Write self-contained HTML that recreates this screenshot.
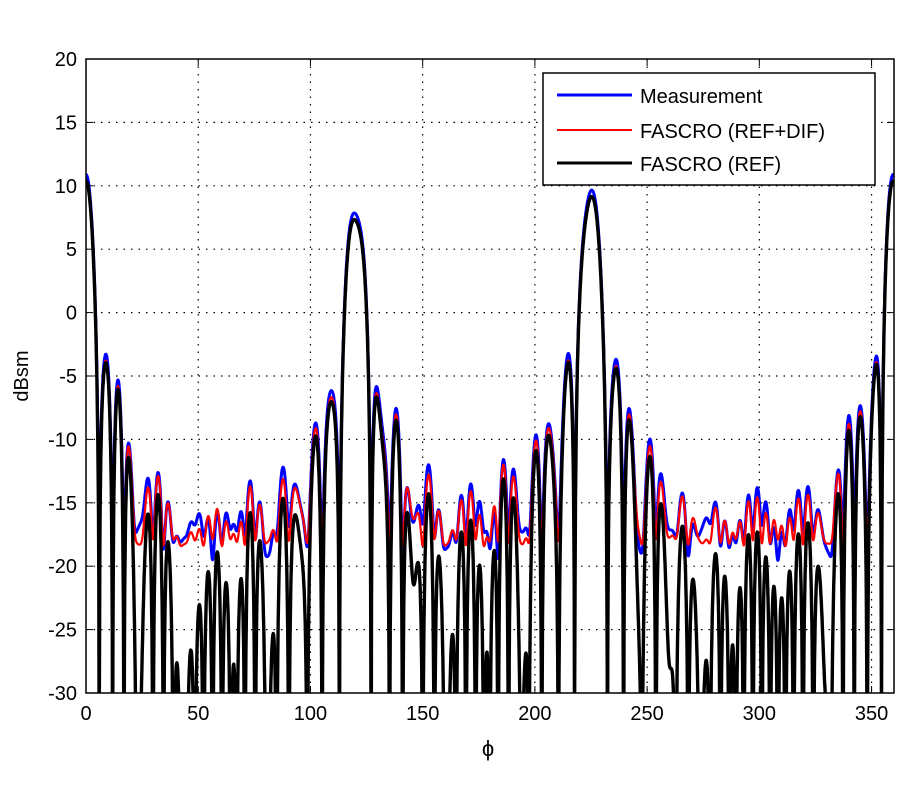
<!DOCTYPE html>
<html><head><meta charset="utf-8"><style>
body{margin:0;background:#fff;}
svg{display:block;font-family:"Liberation Sans",sans-serif;}
</style></head><body>
<svg id="s" width="900" height="800" xmlns="http://www.w3.org/2000/svg">
<defs><clipPath id="c"><rect x="86" y="59" width="808" height="634"/></clipPath></defs>
<rect x="0" y="0" width="900" height="800" fill="#fff"/>
<g id="grid" stroke="#000" stroke-width="1.2" stroke-dasharray="1.5,6"></g>
<g id="lines" clip-path="url(#c)" fill="none" stroke-linejoin="round"></g>
<rect x="86" y="59" width="808" height="634" fill="none" stroke="#000" stroke-width="1.5"/>
<g id="ticks" font-size="20" fill="#000"></g>
<text x="28" y="376" font-size="20" transform="rotate(-90 28 376)" text-anchor="middle">dBsm</text>
<text x="488" y="756" font-size="22" text-anchor="middle">ϕ</text>
<rect x="543" y="73" width="332" height="112" fill="#fff" stroke="#000" stroke-width="1.5"/>
<line x1="557" y1="95" x2="632" y2="95" stroke="#0000ff" stroke-width="3"/>
<line x1="557" y1="130" x2="632" y2="130" stroke="#ff0000" stroke-width="2"/>
<line x1="557" y1="163" x2="632" y2="163" stroke="#000" stroke-width="3"/>
<text x="640" y="103" font-size="20">Measurement</text>
<text x="640" y="138" font-size="20">FASCRO (REF+DIF)</text>
<text x="640" y="171" font-size="20">FASCRO (REF)</text>
</svg>
<script>
var X0=86,X1=894,Y0=59,Y1=693;
function px(p){return X0+(X1-X0)*p/360;}
function py(d){return Y0+(20-d)*(Y1-Y0)/50;}
var g=document.getElementById('grid'),t=document.getElementById('ticks'),ns="http://www.w3.org/2000/svg";
function el(par,n,a,txt){var e=document.createElementNS(ns,n);for(var k in a)e.setAttribute(k,a[k]);if(txt!==undefined)e.textContent=txt;par.appendChild(e);return e;}
for(var v=50;v<=350;v+=50){el(g,'line',{x1:px(v),y1:Y0,x2:px(v),y2:Y1});}
for(var v=0;v<=350;v+=50){el(t,'text',{x:px(v),y:Y1+27,'text-anchor':'middle'},v);el(t,'line',{x1:px(v),y1:Y1,x2:px(v),y2:Y1-7,stroke:'#000'});el(t,'line',{x1:px(v),y1:Y0,x2:px(v),y2:Y0+7,stroke:'#000'});}
for(var d=-25;d<=15;d+=5){el(g,'line',{x1:X0,y1:py(d),x2:X1,y2:py(d)});}
for(var d=-30;d<=20;d+=5){el(t,'text',{x:X0-9,y:py(d)+7,'text-anchor':'end'},d);el(t,'line',{x1:X0,y1:py(d),x2:X0+7,y2:py(d),stroke:'#000'});el(t,'line',{x1:X1,y1:py(d),x2:X1-7,y2:py(d),stroke:'#000'});}
function sinc(x){if(Math.abs(x)<1e-6)return 1;return Math.sin(Math.PI*x)/(Math.PI*x);}
var W=7.3;
var lobes=[[0,3.2,5.8],[360,3.3,5.8],[120,2.4,7.3],[225,2.85,7.3]];
function a(p){var s=0;for(var i=0;i<lobes.length;i++){var x=(p-lobes[i][0])/lobes[i][2];s+=lobes[i][1]*sinc(x)*Math.exp(-(x/8)*(x/8));}
 var b=0.085+0.025*Math.sin(p*0.11)+0.015*Math.cos(p*0.037);
 s+=b*Math.cos(2*Math.PI*p/W+0.4*Math.sin(p*0.05));return s;}
function series(f){var pts=[];for(var p=0;p<=360;p+=0.15){var d=f(p);if(d<-40)d=-40;pts.push(px(p).toFixed(1)+','+py(d).toFixed(1));}return pts.join(' ');}
var L=document.getElementById('lines');
var blue=series(function(p){var v=a(p)*1.06;var dd=0.12+0.015*Math.sin(p*0.3);return 10*Math.log10(v*v+dd*dd+0.002*Math.cos(p*0.5)+0.002);});
var red=series(function(p){var v=a(p);var dd=0.12;return 10*Math.log10(v*v+dd*dd+0.001*Math.sin(p*0.7)+0.001);});
var blk=series(function(p){var v=a(p);return 10*Math.log10(v*v+1e-5);});
el(L,'polyline',{points:blue,stroke:'#0000ff','stroke-width':3});
el(L,'polyline',{points:red,stroke:'#ff0000','stroke-width':2.2});
el(L,'polyline',{points:blk,stroke:'#000','stroke-width':3.4});
</script>
</body></html>
